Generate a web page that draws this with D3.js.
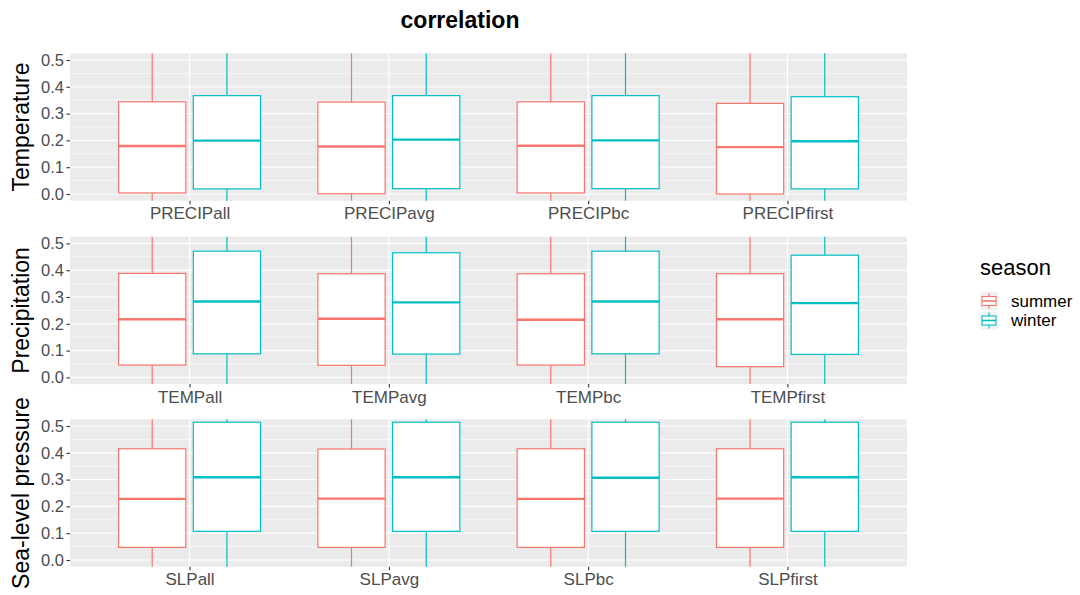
<!DOCTYPE html>
<html>
<head>
<meta charset="utf-8">
<script src="https://cdn.jsdelivr.net/npm/d3@7"></script>
<style>
  html, body { margin: 0; padding: 0; background: #fff; }
  svg { display: block; font-family: "Liberation Sans", Arial, Helvetica, sans-serif; }
</style>
</head>
<body>
<svg id="chart" width="1080" height="595"></svg>
<script>
// Response variables (one facet row each) and the predictors shown on each row
const responses = ["Temperature", "Precipitation", "Sea-level pressure"];
const predictorsTemp = ["PRECIPall", "PRECIPavg", "PRECIPbc", "PRECIPfirst"];
const predictorsPrecip = ["TEMPall", "TEMPavg", "TEMPbc", "TEMPfirst"];
const predictorsSlp = ["SLPall", "SLPavg", "SLPbc", "SLPfirst"];
const seasons = ["summer", "winter"];
const yTicks = [0.0, 0.1, 0.2, 0.3, 0.4, 0.5];

// Box statistics per row (4 predictors each)
const summerQ1 = [[0.004, 0.001, 0.004, 0.000], [0.046, 0.045, 0.046, 0.040], [0.047, 0.047, 0.047, 0.047]];
const summerMedian = [[0.179, 0.177, 0.180, 0.175], [0.217, 0.219, 0.215, 0.217], [0.228, 0.229, 0.228, 0.229]];
const summerQ3 = [[0.344, 0.343, 0.344, 0.338], [0.388, 0.387, 0.387, 0.387], [0.415, 0.414, 0.415, 0.415]];
const summerLow = [[-0.50, -0.51, -0.50, -0.51], [-0.46, -0.47, -0.46, -0.48], [-0.50, -0.50, -0.50, -0.50]];
const summerHigh = [[0.85, 0.85, 0.85, 0.84], [0.89, 0.89, 0.89, 0.90], [0.92, 0.92, 0.92, 0.92]];

const winterQ1 = [[0.019, 0.020, 0.020, 0.019], [0.088, 0.087, 0.088, 0.086], [0.107, 0.107, 0.107, 0.107]];
const winterMedian = [[0.199, 0.203, 0.200, 0.197], [0.283, 0.280, 0.283, 0.277], [0.309, 0.309, 0.307, 0.309]];
const winterQ3 = [[0.367, 0.367, 0.367, 0.363], [0.471, 0.465, 0.471, 0.456], [0.514, 0.514, 0.514, 0.514]];
const winterLow = [[-0.50, -0.50, -0.50, -0.49], [-0.48, -0.47, -0.48, -0.47], [-0.50, -0.50, -0.50, -0.50]];
const winterHigh = [[0.89, 0.89, 0.89, 0.88], [0.94, 0.94, 0.94, 0.93], [0.98, 0.98, 0.98, 0.98]];

const predictorRows = [predictorsTemp, predictorsPrecip, predictorsSlp];
const seasonColors = { summer: "#F8766D", winter: "#00BFC4" };

const svg = d3.select("#chart");

const panelLeft = 70, panelRight = 907;
const panelTops = [53.3, 236.7, 419.3];
const panelHeight = 147.4;

// Title
svg.append("text")
  .attr("x", 460).attr("y", 28)
  .attr("text-anchor", "middle")
  .attr("font-size", 23).attr("font-weight", "bold")
  .attr("fill", "#000")
  .text("correlation");

const defs = svg.append("defs");

responses.forEach((resp, r) => {
  const top = panelTops[r];
  const bottom = top + panelHeight;
  const cats = predictorRows[r];

  // ggplot-style discrete expansion: 0.6 units on each side
  const unit = (panelRight - panelLeft) / (cats.length - 1 + 1.2);
  const x = d3.scalePoint().domain(cats)
    .range([panelLeft + unit * 0.6, panelRight - unit * 0.6]);
  const y = d3.scaleLinear().domain([-0.025, 0.525]).range([bottom, top]);

  const g = svg.append("g");

  defs.append("clipPath").attr("id", "clip" + r)
    .append("rect").attr("x", panelLeft).attr("y", top)
    .attr("width", panelRight - panelLeft).attr("height", panelHeight);

  // panel background
  g.append("rect").attr("x", panelLeft).attr("y", top)
    .attr("width", panelRight - panelLeft).attr("height", panelHeight)
    .attr("fill", "#EBEBEB");

  // minor grid
  const minor = d3.range(0.05, 0.55, 0.1);
  g.selectAll(".minor").data(minor).enter().append("line")
    .attr("x1", panelLeft).attr("x2", panelRight)
    .attr("y1", d => y(d)).attr("y2", d => y(d))
    .attr("stroke", "#fff").attr("stroke-width", 0.6);
  // major grid
  g.selectAll(".major").data(yTicks).enter().append("line")
    .attr("x1", panelLeft).attr("x2", panelRight)
    .attr("y1", d => y(d)).attr("y2", d => y(d))
    .attr("stroke", "#fff").attr("stroke-width", 1.2);
  g.selectAll(".vmajor").data(cats).enter().append("line")
    .attr("x1", d => x(d)).attr("x2", d => x(d))
    .attr("y1", top).attr("y2", bottom)
    .attr("stroke", "#fff").attr("stroke-width", 1.2);

  // boxplots, dodged by season
  const boxW = unit * 0.75 / 2;
  const innerW = boxW * 0.9;
  const stats = [];
  cats.forEach((c, i) => {
    stats.push({ cat: c, season: "summer", q1: summerQ1[r][i], med: summerMedian[r][i], q3: summerQ3[r][i], lo: summerLow[r][i], hi: summerHigh[r][i], off: -boxW / 2 });
    stats.push({ cat: c, season: "winter", q1: winterQ1[r][i], med: winterMedian[r][i], q3: winterQ3[r][i], lo: winterLow[r][i], hi: winterHigh[r][i], off: boxW / 2 });
  });

  const bg = g.append("g").attr("clip-path", `url(#clip${r})`);
  const box = bg.selectAll(".box").data(stats).enter().append("g");
  box.append("line")
    .attr("x1", d => x(d.cat) + d.off).attr("x2", d => x(d.cat) + d.off)
    .attr("y1", d => y(d.q3)).attr("y2", d => y(d.hi))
    .attr("stroke", d => seasonColors[d.season]).attr("stroke-width", 1.2);
  box.append("line")
    .attr("x1", d => x(d.cat) + d.off).attr("x2", d => x(d.cat) + d.off)
    .attr("y1", d => y(d.q1)).attr("y2", d => y(d.lo))
    .attr("stroke", d => seasonColors[d.season]).attr("stroke-width", 1.2);
  box.append("rect")
    .attr("x", d => x(d.cat) + d.off - innerW / 2)
    .attr("width", innerW)
    .attr("y", d => y(d.q3))
    .attr("height", d => y(d.q1) - y(d.q3))
    .attr("fill", "#fff")
    .attr("stroke", d => seasonColors[d.season]).attr("stroke-width", 1.2);
  box.append("line")
    .attr("x1", d => x(d.cat) + d.off - innerW / 2).attr("x2", d => x(d.cat) + d.off + innerW / 2)
    .attr("y1", d => y(d.med)).attr("y2", d => y(d.med))
    .attr("stroke", d => seasonColors[d.season]).attr("stroke-width", 2.4);

  // y axis
  const yAxis = g.append("g").attr("transform", `translate(${panelLeft},0)`)
    .call(d3.axisLeft(y).tickValues(yTicks).tickFormat(d3.format(".1f")).tickSize(3.5).tickPadding(2.5));
  yAxis.select(".domain").remove();
  yAxis.selectAll(".tick line").attr("stroke", "#333").attr("stroke-width", 1.1);
  yAxis.selectAll(".tick text").attr("fill", "#4D4D4D").attr("font-size", 16.5)
    .attr("font-family", "Liberation Sans, Arial, sans-serif");

  // x axis
  const xAxis = g.append("g").attr("transform", `translate(0,${bottom})`)
    .call(d3.axisBottom(x).tickSize(3.5).tickPadding(3));
  xAxis.select(".domain").remove();
  xAxis.selectAll(".tick line").attr("stroke", "#333").attr("stroke-width", 1.1);
  xAxis.selectAll(".tick text").attr("fill", "#4D4D4D").attr("font-size", 17)
    .attr("font-family", "Liberation Sans, Arial, sans-serif");

  // row title
  svg.append("text")
    .attr("transform", `translate(29,${(top + bottom) / 2}) rotate(-90)`)
    .attr("text-anchor", "middle")
    .attr("font-size", 23).attr("fill", "#000")
    .text(resp);
});

// Legend
const legend = svg.append("g");
legend.append("text").attr("x", 980).attr("y", 275)
  .attr("font-size", 22).attr("fill", "#000").text("season");
const keySize = 18;
const keyStep = 19.5;
seasons.forEach((s, i) => {
  const ky = 292 + i * keyStep;
  const k = legend.append("g");
  k.append("rect").attr("x", 980).attr("y", ky).attr("width", keySize).attr("height", keySize).attr("fill", "#F2F2F2");
  const col = seasonColors[s];
  const mx = 980 + keySize / 2;
  k.append("line").attr("x1", mx).attr("x2", mx).attr("y1", ky + 1).attr("y2", ky + keySize - 1)
    .attr("stroke", col).attr("stroke-width", 1.1);
  k.append("rect").attr("x", 980 + 2).attr("y", ky + keySize * 0.25)
    .attr("width", keySize - 4).attr("height", keySize * 0.5)
    .attr("fill", "#fff").attr("stroke", col).attr("stroke-width", 1.1);
  k.append("line").attr("x1", 982).attr("x2", 980 + keySize - 2)
    .attr("y1", ky + keySize / 2).attr("y2", ky + keySize / 2)
    .attr("stroke", col).attr("stroke-width", 1.6);
  legend.append("text").attr("x", 1011).attr("y", ky + keySize / 2)
    .attr("dominant-baseline", "central")
    .attr("font-size", 17).attr("fill", "#000").text(s);
});
</script>
</body>
</html>
